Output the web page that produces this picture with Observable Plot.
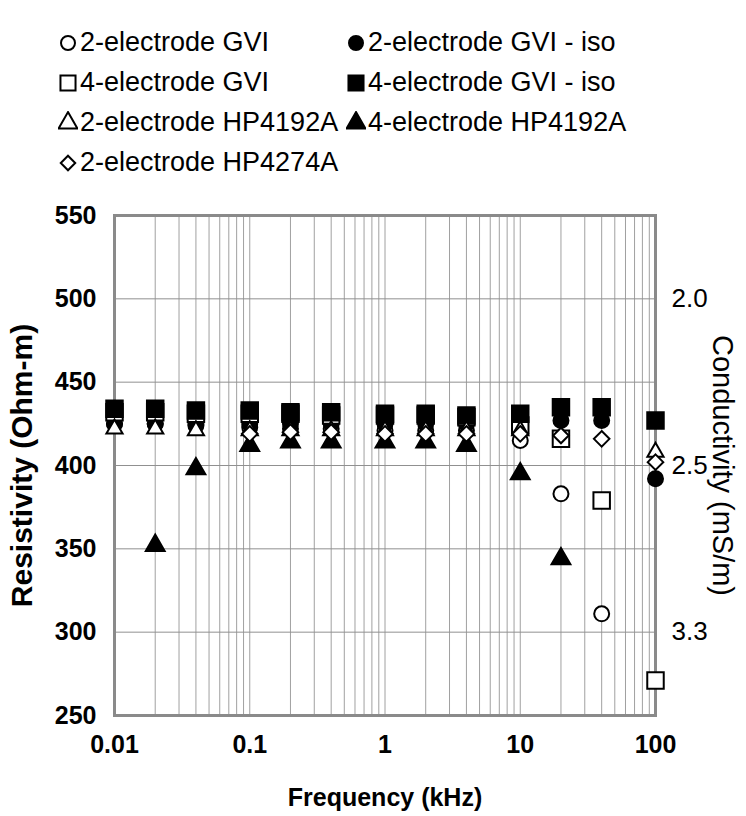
<!DOCTYPE html>
<html><head><meta charset="utf-8">
<script src="https://cdn.jsdelivr.net/npm/d3@7"></script>
<script src="https://cdn.jsdelivr.net/npm/@observablehq/plot@0.6"></script>
<style>
body{margin:0;background:#fff;font-family:"Liberation Sans",Arial,sans-serif;}
#legend{position:relative;width:746px;height:190px;}
.item{position:absolute;display:flex;align-items:center;font-size:27px;color:#000;white-space:nowrap;line-height:30px;}
.item svg{display:block;margin-right:2px;}
</style></head><body>
<div id="legend"></div><div id="chart"></div>
<script>
// Frequencies (kHz)
const freqs = [0.01, 0.02, 0.04, 0.1, 0.2, 0.4, 1, 2, 4, 10, 20, 40, 100];
// Resistivity (Ohm-m) per series
const gvi2       = [425, 425, 424, 423, 422, 422, 421, 421, 421, 415, 383, 311, null];
const gvi2Iso    = [425, 425, 425, 425, 425, 425, 425, 425, 425, 425, 427, 427, 392];
const gvi4       = [432, 432, 431, 431, 431, 430, 430, 430, 429, 424, 416, 379, 271];
const gvi4Iso    = [434, 434, 433, 433, 432, 432, 431, 431, 430, 431, 435, 435, 427];
const hp4192Two  = [422, 422, 421, 421, 421, 421, 421, 421, 421, 421, null, null, 408];
const hp4192Four = [null, 352, 398, 412, 414, 414, 414, 414, 412, 395, 344, null, null];
const hp4274Two  = [null, null, null, 419, 420, 420, 419, 419, 419, 419, 418, 416, 402];

const seriesNames = ["2-electrode GVI", "2-electrode GVI - iso", "4-electrode GVI", "4-electrode GVI - iso",
  "2-electrode HP4192A", "4-electrode HP4192A", "2-electrode HP4274A"];

const xTicks = [0.01, 0.1, 1, 10, 100];
const xTickLabels = ["0.01", "0.1", "1", "10", "100"];
const yTicks = [250, 300, 350, 400, 450, 500, 550];
const rightTicks = [500, 400, 300];
const rightTickLabels = ["2.0", "2.5", "3.3"];
const minorX = [];
for (const base of [0.01, 0.1, 1, 10]) for (let k = 1; k <= 9; k++) minorX.push(+(base * k).toPrecision(3));
minorX.push(100);

const series = [
  {name: seriesNames[0], values: gvi2,       symbol: "circle",   fill: "white", r: 7.5},
  {name: seriesNames[1], values: gvi2Iso,    symbol: "circle",   fill: "black", r: 7.5},
  {name: seriesNames[2], values: gvi4,       symbol: "square",   fill: "white", r: 9.3},
  {name: seriesNames[3], values: gvi4Iso,    symbol: "square",   fill: "black", r: 9.3},
  {name: seriesNames[4], values: hp4192Two,  symbol: "triangle", fill: "white", r: 6},
  {name: seriesNames[5], values: hp4192Four, symbol: "triangle", fill: "black", r: 7},
  {name: seriesNames[6], values: hp4274Two,  symbol: "diamond2", fill: "white", r: 7}
];

// Legend
const symMap = {circle: d3.symbolCircle, square: d3.symbolSquare, triangle: d3.symbolTriangle, diamond2: d3.symbolDiamond2};
const legendR = [7, 7, 8.5, 8.5, 7, 7, 6.5];
const legendPos = [[0,0],[1,0],[0,1],[1,1],[0,2],[1,2],[0,3]];
const colX = [58, 346], rowY = [42, 82, 122, 162];
const leg = d3.select("#legend");
series.forEach((s, i) => {
  const [c, rw] = legendPos[i];
  const it = leg.append("div").attr("class", "item")
    .style("left", colX[c] + "px").style("top", (rowY[rw] - 15) + "px");
  const sv = it.append("svg").attr("width", 20).attr("height", 22);
  sv.append("path").attr("transform", "translate(10,12)")
    .attr("d", d3.symbol(symMap[s.symbol], legendR[i] * legendR[i] * Math.PI)())
    .attr("fill", s.fill).attr("stroke", "black").attr("stroke-width", 2);
  it.append("span").text(s.name);
});

const font = '"Liberation Sans", Arial, sans-serif';
const dotMarks = series.map(s => {
  const data = freqs.map((f, i) => ({f, v: s.values[i]})).filter(d => d.v != null);
  return Plot.dot(data, {x: "f", y: "v", symbol: s.symbol, r: s.r, fill: s.fill, stroke: "black", strokeWidth: 2});
});

const chart = Plot.plot({
  width: 746, height: 626,
  marginTop: 25, marginBottom: 101, marginLeft: 114, marginRight: 91,
  style: {fontFamily: font, background: "white", color: "black"},
  x: {type: "log", domain: [0.01, 100]},
  y: {domain: [250, 550]},
  marks: [
    Plot.ruleX(minorX, {stroke: "#a0a0a0", strokeWidth: 1}),
    Plot.ruleY(yTicks, {stroke: "#909090", strokeWidth: 1}),
    Plot.frame({stroke: "#8a8a8a", strokeWidth: 3}),
    ...dotMarks,
    Plot.axisY({anchor: "left", ticks: yTicks, tickSize: 0, tickPadding: 18, fontSize: 25, fontWeight: "bold", label: null}),
    Plot.axisY({anchor: "right", ticks: rightTicks, tickFormat: d => rightTickLabels[rightTicks.indexOf(d)], tickSize: 0, tickPadding: 16, fontSize: 26, label: null}),
    Plot.axisX({ticks: xTicks, tickFormat: d => xTickLabels[xTicks.indexOf(d)], tickSize: 0, tickPadding: 20, fontSize: 25, fontWeight: "bold", label: null}),
    Plot.text(["Resistivity (Ohm-m)"], {frameAnchor: "left", textAnchor: "middle", dx: -92, rotate: -90, fontSize: 30, fontWeight: "bold"}),
    Plot.text(["Conductivity (mS/m)"], {frameAnchor: "right", textAnchor: "middle", dx: 67, rotate: 90, fontSize: 29}),
    Plot.text(["Frequency (kHz)"], {frameAnchor: "bottom", dy: 90, fontSize: 25, fontWeight: "bold"})
  ]
});
document.getElementById("chart").appendChild(chart);
</script>
</body></html>
